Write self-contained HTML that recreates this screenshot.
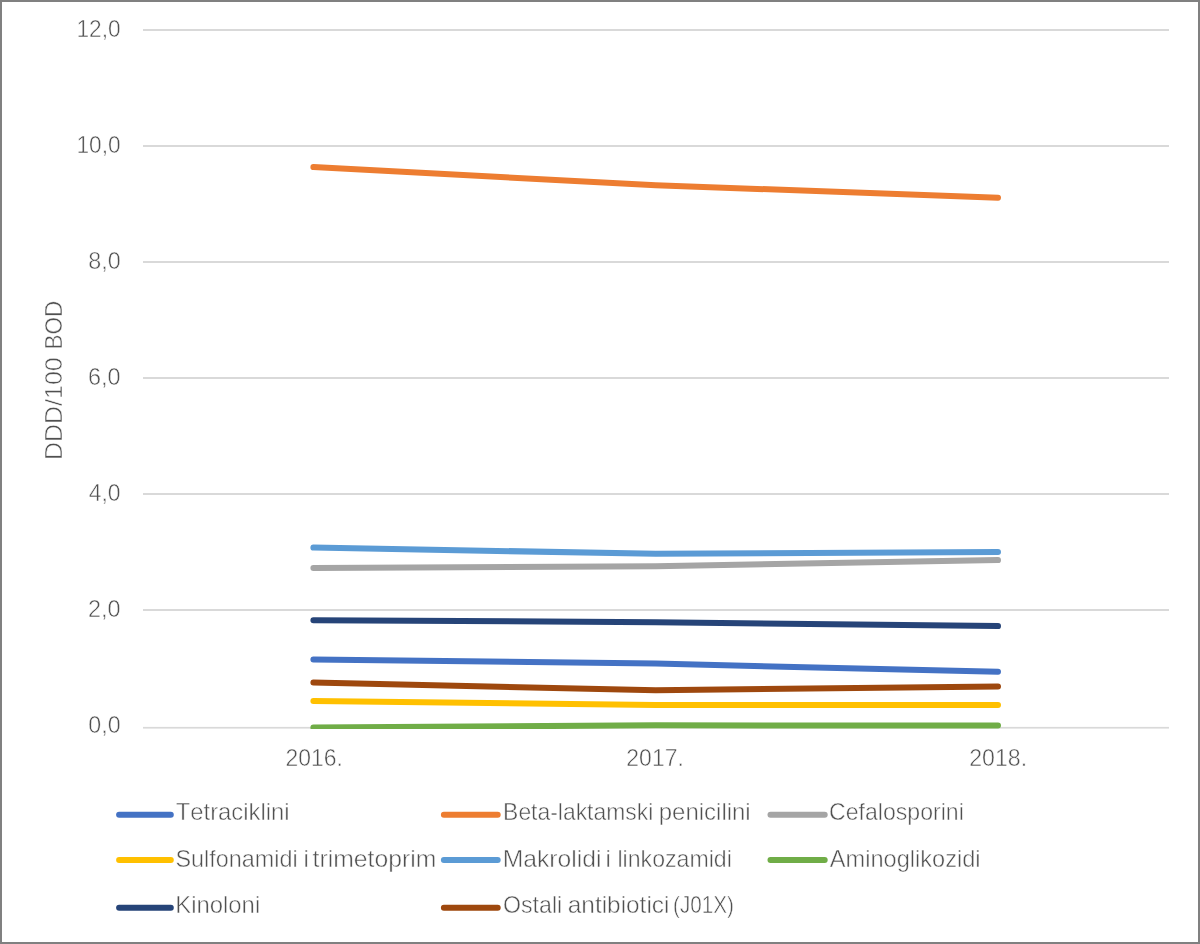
<!DOCTYPE html>
<html><head><meta charset="utf-8"><style>
html,body{margin:0;padding:0;background:#fff;}
body{width:1200px;height:944px;overflow:hidden;position:relative;}
.frame{position:absolute;left:0;top:0;width:1196px;height:940px;border:2px solid #808080;}
svg{position:absolute;left:0;top:0;will-change:transform;}
.t{font-family:"Liberation Sans",sans-serif;font-size:24.0px;fill:#505050;font-kerning:none;stroke:#fff;stroke-width:0.5px;}
</style></head><body>
<svg width="1200" height="944" viewBox="0 0 1200 944">
<rect x="0" y="0" width="1200" height="944" fill="#ffffff"/>
<rect x="143" y="29" width="1026" height="2" fill="#D9D9D9"/>
<rect x="143" y="145" width="1026" height="2" fill="#D9D9D9"/>
<rect x="143" y="261" width="1026" height="2" fill="#D9D9D9"/>
<rect x="143" y="377" width="1026" height="2" fill="#D9D9D9"/>
<rect x="143" y="493" width="1026" height="2" fill="#D9D9D9"/>
<rect x="143" y="609" width="1026" height="2" fill="#D9D9D9"/>
<rect x="143" y="726.9" width="1026" height="1.7" fill="#D9D9D9"/>
<text x="76.52" y="37.05" class="t" textLength="44.11" lengthAdjust="spacingAndGlyphs">12,0</text>
<text x="76.52" y="153.05" class="t" textLength="44.11" lengthAdjust="spacingAndGlyphs">10,0</text>
<text x="88.24" y="269.05" class="t" textLength="32.42" lengthAdjust="spacingAndGlyphs">8,0</text>
<text x="88.06" y="385.05" class="t" textLength="32.61" lengthAdjust="spacingAndGlyphs">6,0</text>
<text x="88.72" y="501.05" class="t" textLength="31.92" lengthAdjust="spacingAndGlyphs">4,0</text>
<text x="88.07" y="617.05" class="t" textLength="32.60" lengthAdjust="spacingAndGlyphs">2,0</text>
<text x="88.34" y="733.05" class="t" textLength="32.32" lengthAdjust="spacingAndGlyphs">0,0</text>
<text x="285.55" y="765.65" class="t" textLength="57.34" lengthAdjust="spacingAndGlyphs">2016.</text>
<text x="626.35" y="765.65" class="t" textLength="57.45" lengthAdjust="spacingAndGlyphs">2017.</text>
<text x="969.24" y="765.65" class="t" textLength="57.87" lengthAdjust="spacingAndGlyphs">2018.</text>
<text x="-2.05" y="0" transform="translate(61.7,458) rotate(-90)" class="t" textLength="102.83" lengthAdjust="spacingAndGlyphs">DDD/100</text>
<text x="-1.84" y="0" transform="translate(61.7,347.7) rotate(-90)" class="t" textLength="48.72" lengthAdjust="spacingAndGlyphs">BOD</text>
<defs><clipPath id="pc"><rect x="0" y="0" width="1200" height="729"/></clipPath></defs><g clip-path="url(#pc)">
<polyline points="313.4,659.5 655.7,663.6 998.0,671.8" fill="none" stroke="#4472C4" stroke-width="6" stroke-linecap="round" stroke-linejoin="round"/>
<polyline points="313.4,167.1 655.7,185.2 998.0,197.7" fill="none" stroke="#ED7D31" stroke-width="6" stroke-linecap="round" stroke-linejoin="round"/>
<polyline points="313.4,568.1 655.7,566.2 998.0,560.1" fill="none" stroke="#A5A5A5" stroke-width="6" stroke-linecap="round" stroke-linejoin="round"/>
<polyline points="313.4,701.0 655.7,704.9 998.0,704.9" fill="none" stroke="#FFC000" stroke-width="6" stroke-linecap="round" stroke-linejoin="round"/>
<polyline points="313.4,547.6 655.7,553.8 998.0,551.9" fill="none" stroke="#5B9BD5" stroke-width="6" stroke-linecap="round" stroke-linejoin="round"/>
<polyline points="313.4,727.6 655.7,725.3 998.0,725.6" fill="none" stroke="#70AD47" stroke-width="6" stroke-linecap="round" stroke-linejoin="round"/>
<polyline points="313.4,620.2 655.7,622.2 998.0,626.1" fill="none" stroke="#264478" stroke-width="6" stroke-linecap="round" stroke-linejoin="round"/>
<polyline points="313.4,682.5 655.7,690.3 998.0,686.4" fill="none" stroke="#9E480E" stroke-width="6" stroke-linecap="round" stroke-linejoin="round"/>
</g>
<line x1="119.1" y1="814.75" x2="170.8" y2="814.75" stroke="#4472C4" stroke-width="6" stroke-linecap="round"/>
<text x="175.76" y="819.90" class="t" textLength="113.84" lengthAdjust="spacingAndGlyphs">Tetraciklini</text>
<line x1="443.9" y1="814.75" x2="497.7" y2="814.75" stroke="#ED7D31" stroke-width="6" stroke-linecap="round"/>
<text x="503.12" y="819.90" class="t" textLength="150.12" lengthAdjust="spacingAndGlyphs">Beta-laktamski</text>
<text x="658.75" y="819.90" class="t" textLength="91.96" lengthAdjust="spacingAndGlyphs">penicilini</text>
<line x1="770.5" y1="814.75" x2="824.7" y2="814.75" stroke="#A5A5A5" stroke-width="6" stroke-linecap="round"/>
<text x="829.08" y="819.90" class="t" textLength="134.68" lengthAdjust="spacingAndGlyphs">Cefalosporini</text>
<line x1="119.1" y1="860.1" x2="170.8" y2="860.1" stroke="#FFC000" stroke-width="6" stroke-linecap="round"/>
<text x="175.44" y="866.90" class="t" textLength="122.14" lengthAdjust="spacingAndGlyphs">Sulfonamidi</text>
<text x="303.59" y="866.90" class="t" textLength="5.33" lengthAdjust="spacingAndGlyphs">i</text>
<text x="312.63" y="866.90" class="t" textLength="123.76" lengthAdjust="spacingAndGlyphs">trimetoprim</text>
<line x1="443.9" y1="860.1" x2="497.7" y2="860.1" stroke="#5B9BD5" stroke-width="6" stroke-linecap="round"/>
<text x="502.67" y="866.90" class="t" textLength="98.79" lengthAdjust="spacingAndGlyphs">Makrolidi</text>
<text x="605.59" y="866.90" class="t" textLength="5.33" lengthAdjust="spacingAndGlyphs">i</text>
<text x="617.44" y="866.90" class="t" textLength="114.42" lengthAdjust="spacingAndGlyphs">linkozamidi</text>
<line x1="770.5" y1="860.1" x2="824.7" y2="860.1" stroke="#70AD47" stroke-width="6" stroke-linecap="round"/>
<text x="829.75" y="866.90" class="t" textLength="150.84" lengthAdjust="spacingAndGlyphs">Aminoglikozidi</text>
<line x1="119.1" y1="907.8" x2="170.8" y2="907.8" stroke="#264478" stroke-width="6" stroke-linecap="round"/>
<text x="175.24" y="913.10" class="t" textLength="84.97" lengthAdjust="spacingAndGlyphs">Kinoloni</text>
<line x1="443.9" y1="907.8" x2="497.7" y2="907.8" stroke="#9E480E" stroke-width="6" stroke-linecap="round"/>
<text x="503.00" y="913.10" class="t" textLength="59.26" lengthAdjust="spacingAndGlyphs">Ostali</text>
<text x="567.76" y="913.10" class="t" textLength="101.68" lengthAdjust="spacingAndGlyphs">antibiotici</text>
<text x="673.02" y="913.10" class="t" textLength="60.86" lengthAdjust="spacingAndGlyphs">(J01X)</text>
</svg>
<div class="frame"></div>
</body></html>
